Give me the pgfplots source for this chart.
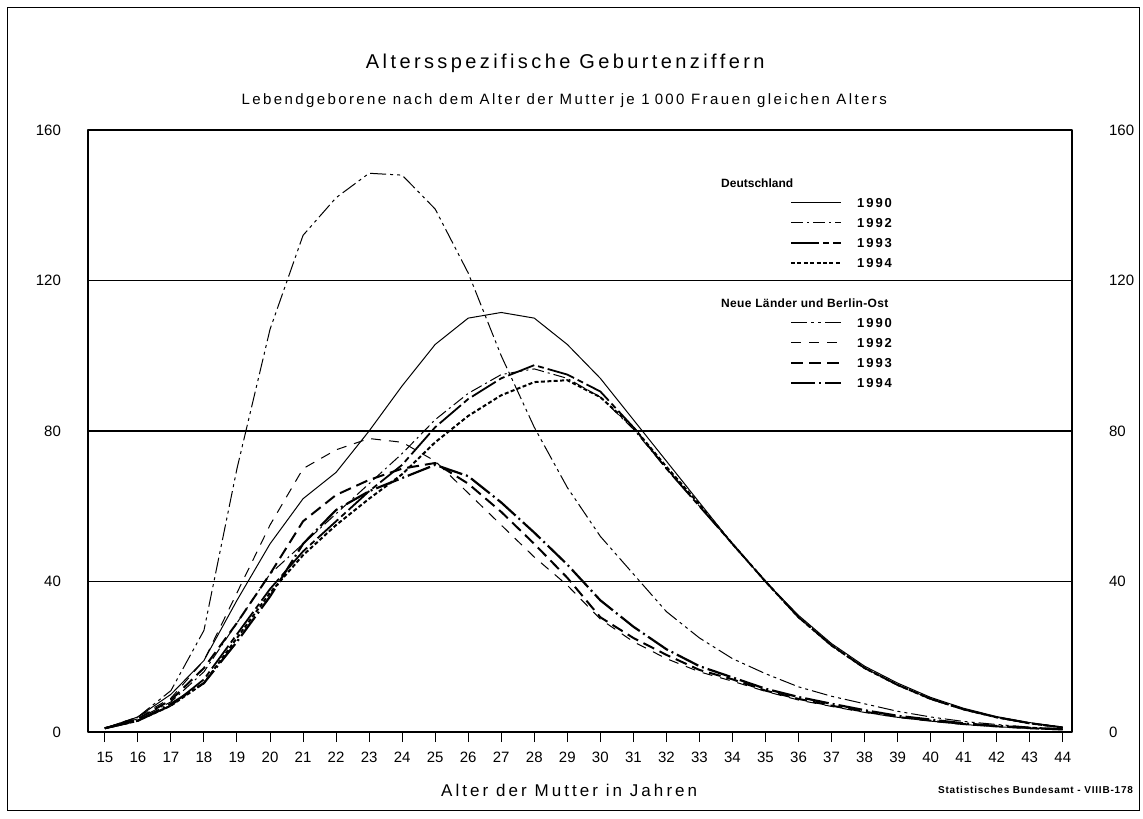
\documentclass[border=0pt]{standalone}
\usepackage{pgfplots}
\pgfplotsset{compat=1.18}
\usepackage{pgfplotstable}
\usepackage{fontspec}
\setmainfont{Liberation Sans}

\pgfplotstableread{
age D90   D92  D93  D94  N90   N92  N93  N94
15  1     1    1    1    1     1    1    1
16  4     3.5  3    3    4     4    3.5  3
17  10    8    7    7    11    9    8.5  7.5
18  19    16   14   13   27    19   17   13
19  35    29   26   25   70    37   29   24
20  50    42   38   37   107   55   42   36
21  62    50   48   47   132   70   56   50
22  69    58   56   55   142   75   63   59
23  80    66   64   62   148.5 78   67   64
24  92    74   71   68.5 148   77   70   67.5
25  103   83   81   77   139   72   71.5 71
26  110   90   88.5 84   122   63.5 66   68
27  111.5 95   94   89.5 100   55   58.5 61
28  110   96.5 97.5 93   81    46.5 50   53
29  103   94   95   93.5 65    39   41   44.5
30  94    89   90.5 89   52    30   30.5 35
31  83    80.5 81   81   42    24   25   28
32  72    70   70   70.5 32    19.5 20.5 22
33  61    60   60   60.5 25    16   16.5 17.5
34  50    50   50   50   19.5  13.5 14   14.5
35  40    40   40   40   15.5  10.8 11   11.5
36  31    30.5 30.5 30.5 12    8.5  8.8  9.3
37  23.5  23   23   23   9.5   6.8  7    7.5
38  17.5  17   17   17   7.5   5.2  5.4  5.8
39  13    12.5 12.5 12.5 5.5   3.9  4    4.3
40  9.2   8.8  8.8  8.8  4     2.9  3    3.3
41  6.3   6    6    6    2.8   2    2.1  2.3
42  4.1   3.9  3.9  3.9  2     1.4  1.5  1.6
43  2.5   2.3  2.3  2.3  1.3   1    1    1.1
44  1.3   1.2  1.2  1.2  0.8   0.6  0.7  0.7
}\data

\begin{document}
\begin{tikzpicture}
\path[use as bounding box] (-44pt,-43pt) rectangle (527.5pt,366pt);
\draw[line width=0.5pt] (-40pt,-39pt) rectangle (525.5pt,362pt);

\begin{axis}[
  at={(0pt,0pt)}, anchor=south west,
  scale only axis, width=492pt, height=301pt,
  xmin=14.49, xmax=44.28, ymin=0, ymax=160,
  clip mode=individual,
  xtick={15,...,44}, ytick={0,40,80,120,160},
  xtick pos=lower, tick align=outside,
  major tick length=5pt,
  ytick style={draw=none},
  xtick style={line width=0.5pt, black},
  ymajorgrids, grid style={line width=0.8pt, black},
  axis line style={line width=0.7pt},
  tick label style={font=\fontsize{7.5}{8}\selectfont},
  /pgf/number format/assume math mode=true,
  yticklabel style={xshift=-5pt},
  xticklabel style={yshift=-1.5pt},
  legend image code/.code={\draw[#1,line cap=butt] (0pt,0pt) -- (25pt,0pt);},
  legend cell align=left,
  legend style={draw=none, fill=none, at={(0.7134,0.9286)}, anchor=north west,
    inner sep=0pt, outer sep=0pt, row sep=0pt, column sep=5pt,
    font=\fontsize{6.5}{7}\selectfont\bfseries\addfontfeatures{LetterSpace=15},
    nodes={inner sep=2.5pt, text height=5pt, text depth=0pt}},
  line join=round,
]
\addlegendimage{empty legend}
\addlegendentry{\makebox[0pt][l]{\hspace*{-68pt}\fontsize{6}{7}\selectfont\bfseries\addfontfeatures{LetterSpace=0}Deutschland}}
\addplot[black, line width=0.5pt] table[x=age,y=D90]{\data};
\addlegendentry{1990}
\addplot[black, line width=0.5pt, dash pattern=on 6pt off 2pt on 1pt off 2pt] table[x=age,y=D92]{\data};
\addlegendentry{1992}
\addplot[black, line width=0.9pt, dash pattern=on 14pt off 2pt on 3pt off 2pt] table[x=age,y=D93]{\data};
\addlegendentry{1993}
\addplot[black, line width=1pt, dash pattern=on 2pt off 1.2pt] table[x=age,y=D94]{\data};
\addlegendentry{1994}
\addlegendimage{empty legend}
\addlegendentry{}
\addlegendimage{empty legend}
\addlegendentry{\makebox[0pt][l]{\hspace*{-68pt}\fontsize{6}{7}\selectfont\bfseries\addfontfeatures{LetterSpace=3}Neue Länder und Berlin-Ost}}
\addplot[black, line width=0.5pt, dash pattern=on 8pt off 2pt on 1.5pt off 2pt on 1.5pt off 2pt] table[x=age,y=N90]{\data};
\addlegendentry{1990}
\addplot[black, line width=0.5pt, dash pattern=on 5pt off 4pt] table[x=age,y=N92]{\data};
\addlegendentry{1992}
\addplot[black, line width=1pt, dash pattern=on 6pt off 3pt] table[x=age,y=N93]{\data};
\addlegendentry{1993}
\addplot[black, line width=1.1pt, dash pattern=on 12pt off 2pt on 1pt off 2pt] table[x=age,y=N94]{\data};
\addlegendentry{1994}

\node[font=\fontsize{10}{12}\selectfont\addfontfeatures{LetterSpace=17}] at (rel axis cs:0.485,1) [yshift=33.5pt] {Altersspezifische Geburtenziffern};
\node[font=\fontsize{7.5}{9}\selectfont\addfontfeatures{LetterSpace=16}] at (rel axis cs:0.484,1) [yshift=14.5pt] {Lebendgeborene nach dem Alter der Mutter je 1\,\,000 Frauen gleichen Alters};
\node[font=\fontsize{8.5}{10}\selectfont\addfontfeatures{LetterSpace=18}] at (rel axis cs:0.489,0) [yshift=-29pt] {Alter der Mutter in Jahren};
\node[anchor=east, font=\fontsize{5}{6}\selectfont\bfseries\addfontfeatures{LetterSpace=8}] at (rel axis cs:1,0) [xshift=34pt, yshift=-29pt] {Statistisches Bundesamt - VIIIB-178};
\end{axis}

\begin{axis}[
  at={(0pt,0pt)}, anchor=south west,
  scale only axis, width=492pt, height=301pt,
  xmin=14.49, xmax=44.28, ymin=0, ymax=160,
  hide x axis, axis line style={draw=none},
  ytick={0,40,80,120,160}, ytick style={draw=none},
  yticklabel pos=right,
  tick label style={font=\fontsize{7.5}{8}\selectfont},
  /pgf/number format/assume math mode=true,
  yticklabel style={xshift=15pt},
]
\addplot[draw=none] coordinates {(15,0)};
\end{axis}
\end{tikzpicture}
\end{document}
